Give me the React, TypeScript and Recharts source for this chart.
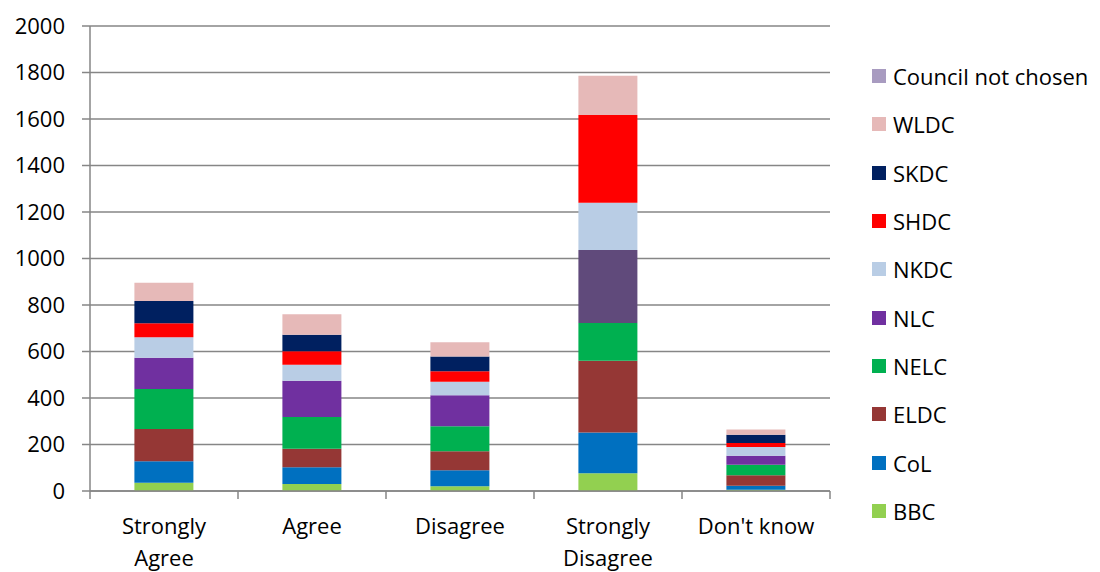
import React from "react";
import { BarChart, Bar, XAxis, YAxis, CartesianGrid, Cell } from "recharts";

const categories = ["Strongly Agree", "Agree", "Disagree", "Strongly Disagree", "Don't know"];
const tickLines = [["Strongly", "Agree"], ["Agree"], ["Disagree"], ["Strongly", "Disagree"], ["Don't know"]];
const yTicks = [0, 200, 400, 600, 800, 1000, 1200, 1400, 1600, 1800, 2000];

const bbc = [36, 30, 20, 76, 5];
const col = [92, 72, 69, 176, 18];
const eldc = [139, 80, 82, 308, 45];
const nelc = [172, 136, 107, 163, 45];
const nlc = [134, 156, 134, 314, 39];
const nkdc = [88, 69, 58, 203, 37];
const shdc = [60, 58, 45, 377, 17];
const skdc = [96, 71, 63, 0, 36];
const wldc = [79, 88, 62, 169, 23];
const notChosen = [0, 0, 0, 0, 0];

const series = [
  { key: "BBC", color: "#92D050", values: bbc },
  { key: "CoL", color: "#0070C0", values: col },
  { key: "ELDC", color: "#953735", values: eldc },
  { key: "NELC", color: "#00B050", values: nelc },
  { key: "NLC", color: "#7030A0", values: nlc },
  { key: "NKDC", color: "#B9CDE5", values: nkdc },
  { key: "SHDC", color: "#FF0000", values: shdc },
  { key: "SKDC", color: "#002060", values: skdc },
  { key: "WLDC", color: "#E6B9B8", values: wldc },
  { key: "Council not chosen", color: "#A89BC0", values: notChosen },
];

// the NLC segment of "Strongly Disagree" is drawn in a darker shade
const nlcOverride = { index: 3, color: "#604A7B" };

const data = categories.map((name, i) => {
  const row: any = { name };
  series.forEach((s) => (row[s.key] = s.values[i]));
  return row;
});

const W = 1100;
const H = 572;
const PLOT_LEFT = 90;
const PLOT_RIGHT = 830;
const BAND = (PLOT_RIGHT - PLOT_LEFT) / categories.length;
const FONT = "'Open Sans', sans-serif";
const FS = 22;
const AXIS = "#868686";

const XTick = (props: any) => {
  const { x, y, payload } = props;
  const i = categories.indexOf(payload.value);
  const lines = tickLines[i] || [payload.value];
  return (
    <g>
      <line x1={x - BAND / 2} y1={y} x2={x - BAND / 2} y2={y + 8} stroke={AXIS} strokeWidth={1.5} />
      {i === categories.length - 1 && (
        <line x1={x + BAND / 2} y1={y} x2={x + BAND / 2} y2={y + 8} stroke={AXIS} strokeWidth={1.5} />
      )}
      <text x={x} y={y} textAnchor="middle" fontSize={FS} fontFamily={FONT} fill="#000">
        {lines.map((l, k) => (
          <tspan key={k} x={x} dy={k === 0 ? 43 : 32}>
            {l}
          </tspan>
        ))}
      </text>
    </g>
  );
};

export default function App() {
  const legendItems = [...series].reverse();
  return (
    <div style={{ position: "absolute", left: 0, top: 0, width: W, height: H, background: "#fff" }}>
      <BarChart
        width={W}
        height={H}
        data={data}
        margin={{ top: 26, right: W - PLOT_RIGHT, bottom: 0, left: 10 }}
        barCategoryGap="30%"
      >
        <CartesianGrid vertical={false} stroke={AXIS} strokeWidth={1.5} />
        <XAxis
          dataKey="name"
          height={81}
          tickSize={0}
          tickMargin={0}
          tickLine={false}
          axisLine={{ stroke: AXIS, strokeWidth: 1.5 }}
          tick={<XTick />}
          interval={0}
        />
        <YAxis
          width={80}
          domain={[0, 2000]}
          ticks={yTicks}
          interval={0}
          tickSize={8}
          tickMargin={17}
          axisLine={{ stroke: AXIS, strokeWidth: 1.5 }}
          tickLine={{ stroke: AXIS, strokeWidth: 1.5 }}
          tick={{ fontSize: FS, fontFamily: FONT, fill: "#000" }}
        />
        {series.map((s) => (
          <Bar key={s.key} dataKey={s.key} stackId="a" fill={s.color} isAnimationActive={false}>
            {s.key === "NLC" &&
              data.map((_, i) => (
                <Cell key={i} fill={i === nlcOverride.index ? nlcOverride.color : s.color} />
              ))}
          </Bar>
        ))}
      </BarChart>
      <div style={{ position: "absolute", left: 872, top: 52, fontFamily: FONT, fontSize: FS, color: "#000" }}>
        {legendItems.map((s) => (
          <div key={s.key} style={{ display: "flex", alignItems: "center", height: 48.3 }}>
            <span style={{ width: 14, height: 14, background: s.color, marginRight: 7, display: "inline-block" }} />
            <span style={{ whiteSpace: "nowrap" }}>{s.key}</span>
          </div>
        ))}
      </div>
    </div>
  );
}
